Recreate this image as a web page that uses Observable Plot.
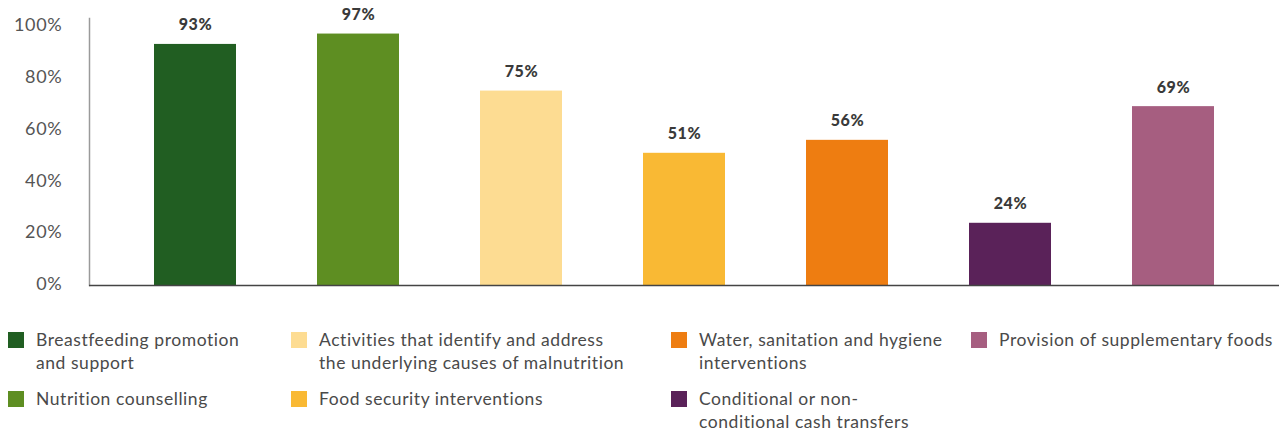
<!DOCTYPE html>
<html>
<head>
<meta charset="utf-8">
<script src="https://cdn.jsdelivr.net/npm/d3@7"></script>
<script src="https://cdn.jsdelivr.net/npm/@observablehq/plot@0.6"></script>
<style>
  body { margin: 0; background: #fff; font-family: Lato, "Open Sans", sans-serif; }
  #wrap { position: relative; width: 1279px; height: 431px; }
  #legend { position: absolute; left: 0; top: 300px; width: 1279px; height: 131px; }
  .item { position: absolute; display: flex; align-items: flex-start; }
  .sw { width: 16px; height: 16px; margin-top: 4px; flex: none; }
  .lab { margin-left: 12px; font-size: 17.5px; letter-spacing: 0.55px; line-height: 23px; color: #4a4a4a; white-space: pre; }
  svg .ytick text { letter-spacing: 0.7px; }
</style>
</head>
<body>
<div id="wrap"><div id="chart"></div><div id="legend"></div></div>
<script>
const categories = [
  "Breastfeeding promotion and support",
  "Nutrition counselling",
  "Activities that identify and address the underlying causes of malnutrition",
  "Food security interventions",
  "Water, sanitation and hygiene interventions",
  "Conditional or non-conditional cash transfers",
  "Provision of supplementary foods"
];
const values = [93, 97, 75, 51, 56, 24, 69];
const colors = ["#215e22", "#5e8e22", "#fddc92", "#f9b934", "#ee7d11", "#5a2259", "#a65e80"];
const legendLabels = [
  "Breastfeeding promotion\nand support",
  "Nutrition counselling",
  "Activities that identify and address\nthe underlying causes of malnutrition",
  "Food security interventions",
  "Water, sanitation and hygiene\ninterventions",
  "Conditional or non-\nconditional cash transfers",
  "Provision of supplementary foods"
];
const yTicks = [0, 20, 40, 60, 80, 100];

const data = categories.map((c, i) => ({category: c, value: values[i]}));

const chart = Plot.plot({
  width: 1279,
  height: 300,
  marginLeft: 89,
  marginRight: 0,
  marginTop: 18,
  marginBottom: 15,
  style: {fontFamily: "Lato, 'Open Sans', sans-serif", background: "#fff"},
  x: {domain: categories, paddingInner: 0.5, paddingOuter: 0.4, axis: null},
  y: {domain: [0, 103]},
  color: {domain: categories, range: colors},
  marks: [
    Plot.frame({anchor: "left", stroke: "#9a9a9a", strokeWidth: 1.5}),
    Plot.barY(data, {x: "category", y: "value", fill: "category"}),
    Plot.ruleY([0], {stroke: "#444", strokeWidth: 1.5}),
    Plot.axisY({ticks: yTicks, tickSize: 0, tickPadding: 27, tickFormat: d => d + "%", fontSize: 18, fill: "#555", label: null, dy: -1, className: "ytick"}),
    Plot.text(data, {x: "category", y: "value", text: d => d.value + "%", dy: -14, lineAnchor: "bottom", fontSize: 16, fontWeight: 900, fill: "#3a3a3a", className: "vlab"})
  ]
});
document.getElementById("chart").appendChild(chart);
chart.querySelectorAll(".vlab text").forEach(t => t.style.letterSpacing = "0.6px");

const colX = [8, 291, 671, 971];
const rowY = [32, 91];
const legend = document.getElementById("legend");
legendLabels.forEach((t, i) => {
  const col = Math.floor(i / 2), row = i % 2;
  const item = document.createElement("div");
  item.className = "item";
  item.style.left = colX[col] + "px";
  item.style.top = (rowY[row] - 4) + "px";
  const sw = document.createElement("div");
  sw.className = "sw";
  sw.style.background = colors[i];
  const lab = document.createElement("div");
  lab.className = "lab";
  lab.textContent = t;
  item.appendChild(sw);
  item.appendChild(lab);
  legend.appendChild(item);
});
</script>
</body>
</html>
